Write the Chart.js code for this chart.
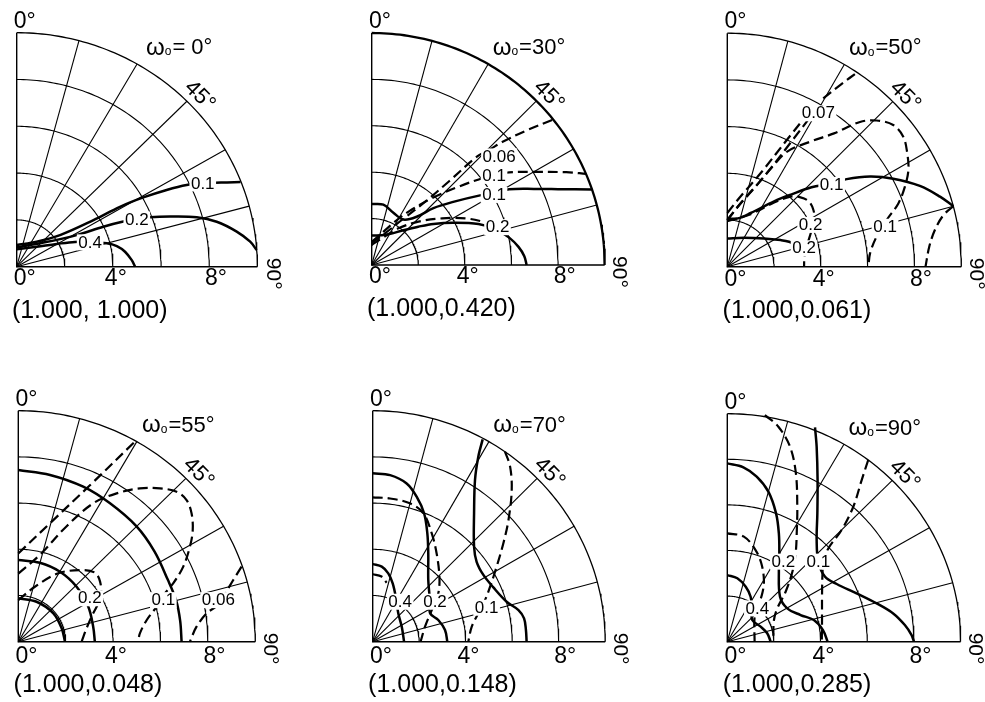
<!DOCTYPE html>
<html><head><meta charset="utf-8">
<script src="https://cdn.jsdelivr.net/npm/chart.js@4.4.1/dist/chart.umd.min.js"></script>
<style>
html,body{margin:0;padding:0;background:#fff;overflow:hidden;width:985px;height:702px;}
.pnl{position:absolute;}
</style></head><body>
<script>
// ---------- DATA (x = r·sinφ, y = r·cosφ, in degrees of zenith angle) ----------
const panelOmega = ["0°","30°","50°","55°","70°","90°"];
const panelTuples = ["(1.000, 1.000)","(1.000,0.420)","(1.000,0.061)","(1.000,0.048)","(1.000,0.148)","(1.000,0.285)"];
const radialTicks = [2,4,6,8,10];
const angleTicks = [15,30,45,60,75];
const radialTickLabels = ["4°","8°"];

// panel 1  ω0 = 0°
const p1_solid_01 = [[0,0.93],[0.83,1.07],[1.8,1.35],[3.19,1.99],[4.29,2.56],[5.26,2.96],[6.23,3.28],[7.06,3.49],[7.73,3.56],[8.52,3.6],[9.3,3.62]];
const p1_solid_02 = [[0,0.83],[1.11,1.03],[2.49,1.35],[3.6,1.71],[4.43,1.93],[4.99,2.03],[5.54,2.11],[6.37,2.14],[7.48,2.11],[8.31,1.92],[9.14,1.5],[9.7,1.07],[9.97,0.71]];
const p1_solid_04 = [[0,0.74],[0.83,0.85],[1.66,0.97],[2.42,1.06],[3.05,1.05],[3.74,1.0],[4.16,0.88],[4.5,0.64],[4.78,0.28],[4.92,0]];
const p1_labels = [["0.1",7.73,3.56],["0.2",4.99,2.02],["0.4",3.05,1.04]];

// panel 2  ω0 = 30°
const p2_solid_01 = [[0,2.63],[0.5,2.6],[0.93,2.25],[1.36,1.96],[1.93,2.08],[2.65,2.45],[3.5,2.72],[4.65,3.0],[5.25,3.1],[5.9,3.26],[7.0,3.28],[8.0,3.27],[9.45,3.25]];
const p2_solid_02 = [[0,1.27],[0.6,1.3],[1.36,1.5],[2.0,1.65],[2.65,1.77],[3.5,1.82],[4.58,1.77],[5.3,1.55],[5.9,1.18],[6.3,0.78],[6.55,0.38],[6.65,0]];
const p2_dash_006 = [[0,0.95],[0.58,1.37],[1.29,1.94],[2.3,2.73],[3.31,3.6],[4.53,4.68],[5.1,5.0],[5.6,5.3],[6.6,5.78],[7.77,6.26]];
const p2_dash_01 = [[0,1.0],[0.43,1.37],[1.0,1.87],[1.58,2.3],[2.59,2.88],[3.74,3.38],[4.75,3.74],[5.25,3.86],[5.9,3.99],[6.9,4.01],[8.35,4.0],[9.2,3.93]];
const p2_dash_02 = [[0,0.86],[0.43,1.15],[1.15,1.58],[2.01,1.87],[3.02,2.01],[4.03,2.01],[4.75,1.87],[5.3,1.68]];
const p2_labels = [["0.06",5.47,4.68],["0.1",5.25,3.84],["0.1",5.25,3.02],["0.2",5.4,1.63]];

// panel 3  ω0 = 50°
const p3_solid_01 = [[0,2.05],[0.45,2.07],[1.0,2.3],[2.0,2.8],[2.75,3.1],[3.6,3.4],[4.4,3.55],[5.1,3.75],[6.1,3.86],[7.09,3.77],[8.23,3.46],[9.09,3.0],[9.66,2.59]];
const p3_solid_02 = [[0,1.21],[0.71,1.24],[1.57,1.21],[2.28,1.14],[2.64,1.07],[3.15,0.85]];
const p3_dash_02 = [[0,1.95],[1.0,2.25],[2.0,2.75],[2.7,3.0],[3.13,2.97],[3.49,2.79],[3.68,2.43],[3.72,2.0],[3.6,1.55],[3.42,0.95],[3.3,0.45],[3.28,0]];
const p3_dash_007a = [[0,2.0],[0.6,2.75],[1.57,3.86],[2.85,5.5],[3.56,6.43]];
const p3_dash_007b = [[0,2.3],[0.6,3.05],[1.42,4.0],[2.71,5.64],[3.35,6.43]];
const p3_dash_007c = [[4.1,7.21],[4.85,7.8],[5.6,8.36]];
const p3_dash_01 = [[0,2.0],[0.6,2.75],[1.2,3.42],[1.9,4.25],[2.56,4.93],[3.56,5.36],[4.56,5.71],[5.67,6.2],[6.38,6.26],[7.09,6.07],[7.52,5.57],[7.69,4.86],[7.74,4.14],[7.59,3.43],[7.31,2.71],[6.81,2.0],[6.38,1.29],[6.1,0.57],[6.03,0]];
const p3_dash_01r = [[9.66,2.59],[9.23,2.2],[8.87,1.57],[8.63,0.85],[8.47,0]];
const p3_labels = [["0.07",3.89,6.57],["0.1",4.46,3.5],["0.2",3.56,1.79],["0.2",3.28,0.79],["0.1",6.74,1.71]];

// panel 4  ω0 = 55°
const p4_solid_01 = [[0,7.43],[1.34,7.22],[2.74,6.71],[3.87,5.99],[4.99,4.99],[5.75,3.9],[6.3,2.7],[6.66,1.79],[6.83,0.9],[6.89,0]];
const p4_solid_02 = [[0,3.54],[0.91,3.42],[1.76,3.03],[2.46,2.38],[2.95,1.52],[3.16,0.65],[3.23,0]];
const p4_solid_04 = [[0,1.88],[0.77,1.73],[1.48,1.23],[1.83,0.58],[1.97,0]];
const p4_dash_006 = [[0,3.82],[1.41,5.2],[3.0,6.75],[4.92,8.66]];
const p4_dash_006r = [[9.42,3.25],[9.07,2.67],[8.65,1.95],[8.37,1.55],[7.95,1.23],[7.52,0.65],[7.24,0]];
const p4_dash_01 = [[0,2.95],[0.9,3.75],[2.04,5.0],[3.16,5.99],[4.15,6.42],[5.13,6.64],[5.98,6.64],[6.68,6.49],[7.1,6.13],[7.31,5.56],[7.36,4.83],[7.24,4.11],[6.96,3.25],[6.55,2.55],[6.12,2.0],[5.84,1.52],[5.42,0.94],[5.13,0.36],[5.06,0]];
const p4_dash_02 = [[0,1.8],[0.7,2.38],[1.69,2.96],[2.67,3.1],[3.23,2.99],[3.45,2.6],[3.49,1.95],[3.3,1.5],[3.12,1.15],[2.88,0.58],[2.67,0]];
const p4_labels = [["0.2",3.02,1.88],["0.1",6.12,1.8],["0.06",8.44,1.8]];

// panel 5  ω0 = 70°
const p5_solid_01 = [[4.73,8.76],[4.54,8.0],[4.4,7.0],[4.36,5.56],[4.36,4.11],[4.47,3.46],[4.76,2.89],[5.19,2.35],[5.76,1.73],[6.27,1.37],[6.51,1.01],[6.59,0.51],[6.62,0]];
const p5_dash_01 = [[5.69,8.23],[5.91,7.58],[5.98,6.57],[5.84,5.27],[5.62,4.26],[5.33,3.25],[5.05,2.38],[4.83,1.8],[4.54,1.23],[4.26,0.65],[4.11,0]];
const p5_solid_02 = [[0,7.29],[0.75,7.21],[1.46,6.85],[1.89,6.28],[2.21,5.56],[2.35,4.69],[2.39,3.82],[2.39,2.67],[2.45,1.9],[2.47,1.23],[2.82,0.94],[3.11,0.51],[3.21,0]];
const p5_dash_02 = [[0,6.25],[0.75,6.2],[1.6,5.99],[2.18,5.56],[2.54,4.69],[2.75,3.82],[2.87,2.81],[2.82,2.09],[2.54,1.37],[2.25,0.65],[2.06,0]];
const p5_solid_04 = [[0,3.36],[0.39,3.25],[0.67,2.96],[0.86,2.53],[1.0,1.9],[1.1,1.23],[1.25,0.65],[1.35,0]];
const p5_dash_04 = [[0,2.92],[0.38,2.82],[0.6,2.55]];
const p5_labels = [["0.4",1.18,1.73],["0.2",2.68,1.73],["0.1",4.9,1.47]];

// panel 6  ω0 = 90°
const p6_solid_01 = [[3.76,9.4],[3.83,8.55],[3.87,7.09],[3.86,5.63],[3.83,4.46],[3.9,3.51],[4.19,2.85],[4.69,2.53],[5.54,2.12],[6.4,1.68],[7.11,1.24],[7.61,0.73],[7.9,0.29],[8.0,0]];
const p6_dash_01 = [[6.04,7.97],[5.76,7.09],[5.4,5.92],[4.9,4.9],[4.33,4.09],[4.12,3.5],[4.08,3.0],[4.06,1.97],[4.06,0.95],[4.05,0]];
const p6_solid_02 = [[0,7.82],[0.69,7.65],[1.26,7.24],[1.76,6.58],[2.09,5.63],[2.21,4.75],[2.23,3.87],[2.21,3.14],[2.26,1.97],[2.57,1.46],[3.14,1.17],[3.71,0.95],[4.1,0.51],[4.3,0]];
const p6_dash_02 = [[1.61,9.94],[2.19,9.43],[2.69,8.55],[2.94,7.38],[3.0,5.92],[2.98,4.9],[2.93,3.87],[2.79,3.07],[2.5,2.19],[2.14,1.46],[2.0,0.95],[1.97,0]];
const p6_solid_04 = [[0,2.92],[0.43,2.78],[0.79,2.41],[1.0,1.97],[1.05,1.46],[1.07,0.95],[1.43,0.66],[1.71,0.37],[1.86,0]];
const p6_dash_04 = [[0,4.75],[0.71,4.61],[1.21,4.02],[1.46,3.43],[1.57,2.7],[1.5,2.12],[1.3,1.5],[1.17,1.1],[1.17,0]];
const p6_labels = [["0.2",2.4,3.51],["0.1",3.9,3.51],["0.4",1.29,1.46]];

// ---------- which curves belong to which panel ----------
const panelCurves = [
  {solid:[p1_solid_01,p1_solid_02,p1_solid_04], dashed:[], labels:p1_labels},
  {solid:[p2_solid_01,p2_solid_02], dashed:[p2_dash_006,p2_dash_01,p2_dash_02], labels:p2_labels},
  {solid:[p3_solid_01,p3_solid_02], dashed:[p3_dash_02,p3_dash_007a,p3_dash_007b,p3_dash_007c,p3_dash_01,p3_dash_01r], labels:p3_labels},
  {solid:[p4_solid_01,p4_solid_02,p4_solid_04], dashed:[p4_dash_006,p4_dash_006r,p4_dash_01,p4_dash_02], labels:p4_labels},
  {solid:[p5_solid_01,p5_solid_02,p5_solid_04], dashed:[p5_dash_01,p5_dash_02,p5_dash_04], labels:p5_labels},
  {solid:[p6_solid_01,p6_solid_02,p6_solid_04], dashed:[p6_dash_01,p6_dash_02,p6_dash_04], labels:p6_labels}
];

// ---------- layout (page pixels of each panel origin and pixels per degree) ----------
const geom = [
  {ox:16.7, oy:266.7, sx:24.07, sy:23.4, ly:-0.52, outer:1.3},
  {ox:371.7, oy:265.0, sx:23.3, sy:23.2, ly:-0.52, outer:2.3},
  {ox:727.3, oy:266.7, sx:23.4, sy:23.35, ly:-0.55, outer:1.3},
  {ox:18.3, oy:641.7, sx:23.7, sy:23.1, ly:-0.66, outer:1.3},
  {ox:372.7, oy:641.7, sx:23.25, sy:23.1, ly:-0.66, outer:1.3},
  {ox:727.3, oy:641.7, sx:23.33, sy:22.8, ly:-0.66, outer:1.3}
];
const XMIN=-0.75, XMAX=11.6, YMIN=-2.6, YMAX=11.25;
const FONT = '"Liberation Sans", Arial, sans-serif';
const D2R = Math.PI/180;

function toPts(arr){ return arr.map(p => ({x:p[0], y:p[1]})); }

function gridDatasets(g){
  const ds = [];
  radialTicks.forEach(r => {
    const pts = [];
    for (let a = 0; a <= 90; a += 1) pts.push({x:r*Math.sin(a*D2R), y:r*Math.cos(a*D2R)});
    ds.push({data:pts, showLine:true, pointRadius:0, borderColor:'#000', borderWidth: r===10 ? g.outer : 1.1, tension:0});
  });
  angleTicks.forEach(a => {
    ds.push({data:[{x:0,y:0},{x:10*Math.sin(a*D2R), y:10*Math.cos(a*D2R)}], showLine:true, pointRadius:0, borderColor:'#000', borderWidth:1.1, tension:0});
  });
  ds.push({data:[{x:0,y:10},{x:0,y:0},{x:10,y:0}], showLine:true, pointRadius:0, borderColor:'#000', borderWidth:1.4, tension:0});
  return ds;
}

const textPlugin = {
  id:'panelTexts',
  afterDatasetsDraw(chart, args, opts){
    const i = opts.panel, g = geom[i];
    const ctx = chart.ctx, xs = chart.scales.x, ys = chart.scales.y;
    const P = (x,y) => [xs.getPixelForValue(x), ys.getPixelForValue(y)];
    ctx.save();
    ctx.fillStyle = '#000';
    ctx.textBaseline = 'middle';
    // contour labels with white knock-out
    ctx.font = '17px ' + FONT;
    ctx.textAlign = 'center';
    panelCurves[i].labels.forEach(l => {
      const [px,py] = P(l[1], l[2]);
      const w = ctx.measureText(l[0]).width;
      ctx.fillStyle = '#fff';
      ctx.fillRect(px - w/2 - 1.5, py - 8, w + 3, 16);
      ctx.fillStyle = '#000';
      ctx.fillText(l[0], px, py + 0.5);
    });
    // axis labels
    ctx.font = '23px ' + FONT;
    ctx.textAlign = 'left';
    let [ax, ay] = P(-0.12, 10.48); ctx.fillText('0°', ax, ay);
    [ax, ay] = P(-0.12, g.ly); ctx.fillText('0°', ax, ay);
    ctx.textAlign = 'center';
    [ax, ay] = P(4.12, g.ly); ctx.fillText(radialTickLabels[0], ax, ay);
    [ax, ay] = P(8.28, g.ly); ctx.fillText(radialTickLabels[1], ax, ay);
    // rotated 90° label
    ctx.save();
    [ax, ay] = P(10.62, -0.3);
    ctx.translate(ax, ay); ctx.rotate(Math.PI/2);
    ctx.font = '21px ' + FONT;
    ctx.fillText('90°', 0, 0);
    ctx.restore();
    // rotated 45° label
    ctx.save();
    [ax, ay] = P(7.6, 7.3);
    ctx.translate(ax, ay); ctx.rotate(Math.PI/4);
    ctx.font = '22px ' + FONT;
    ctx.fillText('45°', 0, 0);
    ctx.restore();
    // omega header
    const rest = (i === 0 ? '= ' : '=') + panelOmega[i];
    ctx.font = '24px ' + FONT; const w1 = ctx.measureText('ω').width;
    ctx.font = '12px ' + FONT; const w2 = ctx.measureText('o').width;
    ctx.font = '22px ' + FONT; const w3 = ctx.measureText(rest).width;
    const tot = w1 + w2 + 1 + w3;
    [ax, ay] = P(6.75, 9.35);
    let x0 = ax - tot/2;
    ctx.textAlign = 'left';
    ctx.font = '24px ' + FONT; ctx.fillText('ω', x0, ay); x0 += w1;
    ctx.font = '12px ' + FONT; ctx.fillText('o', x0, ay + 4); x0 += w2 + 1;
    ctx.font = '22px ' + FONT; ctx.fillText(rest, x0, ay);
    // tuple
    ctx.font = '25px ' + FONT;
    [ax, ay] = P(-0.2, -1.9);
    ctx.fillText(panelTuples[i], ax, ay);
    ctx.restore();
  }
};

geom.forEach((g, i) => {
  const left = Math.floor(g.ox + XMIN*g.sx), right = Math.ceil(g.ox + XMAX*g.sx);
  const top = Math.max(0, Math.floor(g.oy - YMAX*g.sy)), bottom = Math.min(702, Math.ceil(g.oy - YMIN*g.sy));
  const W = right - left, H = bottom - top;
  const div = document.createElement('div');
  div.className = 'pnl';
  div.style.left = left + 'px'; div.style.top = top + 'px';
  div.style.width = W + 'px'; div.style.height = H + 'px';
  const cv = document.createElement('canvas');
  div.appendChild(cv);
  document.body.appendChild(div);
  const xmin = (left - g.ox)/g.sx, xmax = (right - g.ox)/g.sx;
  const ymax = (g.oy - top)/g.sy, ymin = (g.oy - bottom)/g.sy;

  const datasets = gridDatasets(g);
  panelCurves[i].solid.forEach(c => datasets.push({data:toPts(c), showLine:true, pointRadius:0, borderColor:'#000', borderWidth:2.5, tension:0.35}));
  panelCurves[i].dashed.forEach(c => datasets.push({data:toPts(c), showLine:true, pointRadius:0, borderColor:'#000', borderWidth:2.2, borderDash:[10,5], tension:0.35}));

  new Chart(cv, {
    type:'scatter',
    data:{datasets},
    options:{
      responsive:true, maintainAspectRatio:false, animation:false, events:[],
      layout:{padding:0},
      scales:{
        x:{type:'linear', min:xmin, max:xmax, display:false},
        y:{type:'linear', min:ymin, max:ymax, display:false}
      },
      plugins:{legend:{display:false}, tooltip:{enabled:false}, panelTexts:{panel:i}}
    },
    plugins:[textPlugin]
  });
});
</script>
</body></html>
